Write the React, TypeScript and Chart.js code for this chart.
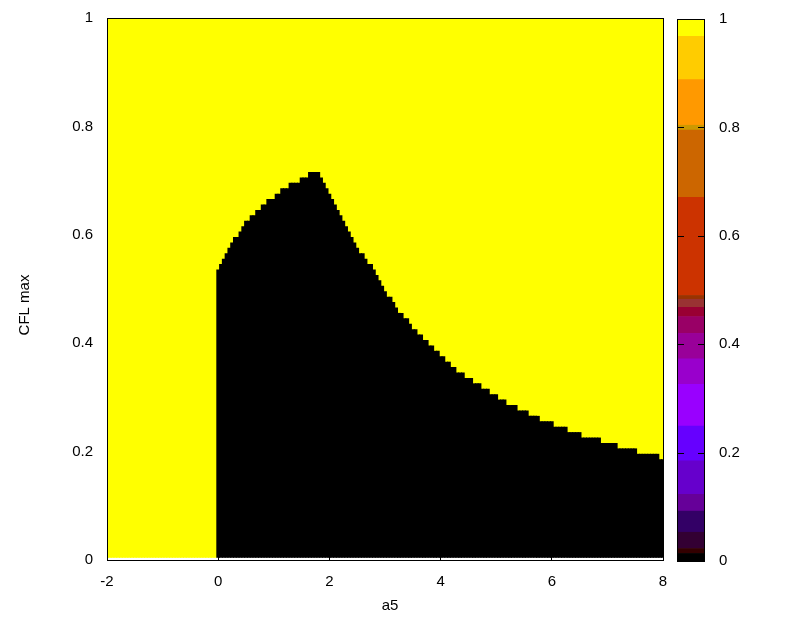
import React, { useEffect, useRef } from "react";
import { Chart, registerables } from "chart.js";

Chart.register(...registerables);

const FONT = "'Liberation Sans', Arial, Helvetica, sans-serif";

// grid of the map (cells are centred on the grid values)
const a5Start = -2;
const a5End = 8;
const a5Step = 0.05;
const cflStep = 0.01;

// highest CFL cell still in the black (value 0) region, for a5 = 0, 0.05, ..., 8
const cflMaxStable = [
  0.53, 0.54, 0.55, 0.56, 0.57, 0.58, 0.59, 0.59, 0.60, 0.61,
  0.62, 0.62, 0.63, 0.63, 0.64, 0.64, 0.65, 0.65, 0.66, 0.66,
  0.66, 0.67, 0.67, 0.68, 0.68, 0.68, 0.69, 0.69, 0.69, 0.69,
  0.70, 0.70, 0.70, 0.71, 0.71, 0.71, 0.71, 0.70, 0.69, 0.68,
  0.67, 0.66, 0.65, 0.64, 0.63, 0.62, 0.61, 0.60, 0.59, 0.58,
  0.57, 0.56, 0.56, 0.55, 0.54, 0.54, 0.53, 0.52, 0.51, 0.50,
  0.49, 0.48, 0.48, 0.47, 0.46, 0.45, 0.45, 0.44, 0.44, 0.43,
  0.42, 0.42, 0.41, 0.41, 0.40, 0.40, 0.39, 0.39, 0.38, 0.38,
  0.37, 0.37, 0.36, 0.36, 0.35, 0.35, 0.34, 0.34, 0.34, 0.33,
  0.33, 0.33, 0.32, 0.32, 0.32, 0.31, 0.31, 0.31, 0.30, 0.30,
  0.30, 0.29, 0.29, 0.29, 0.28, 0.28, 0.28, 0.28, 0.27, 0.27,
  0.27, 0.27, 0.26, 0.26, 0.26, 0.26, 0.25, 0.25, 0.25, 0.25,
  0.25, 0.24, 0.24, 0.24, 0.24, 0.24, 0.23, 0.23, 0.23, 0.23,
  0.23, 0.22, 0.22, 0.22, 0.22, 0.22, 0.22, 0.22, 0.21, 0.21,
  0.21, 0.21, 0.21, 0.21, 0.20, 0.20, 0.20, 0.20, 0.20, 0.20,
  0.20, 0.19, 0.19, 0.19, 0.19, 0.19, 0.19, 0.19, 0.19, 0.18,
  0.18,
];

const stableValue = 0; // black
const unstableValue = 1; // yellow

// colour bar bands (lower bound of each band and its colour)
const cbBandStart = [
  0, 0.014, 0.023, 0.053, 0.092, 0.123, 0.185, 0.249, 0.326, 0.373,
  0.42, 0.451, 0.468, 0.483, 0.49, 0.671, 0.795, 0.804, 0.888, 0.968,
];
const cbBandColor = [
  "#000000", "#330000", "#330033", "#330066", "#660099", "#6600cc", "#6600ff", "#9900ff", "#9900cc", "#990099",
  "#990066", "#990033", "#993333", "#993300", "#cc3300", "#cc6600", "#cc9900", "#ff9900", "#ffcc00", "#ffff00",
];

const xTickLabels = ["-2", "0", "2", "4", "6", "8"];
const yTickLabels = ["0", "0.2", "0.4", "0.6", "0.8", "1"];
const cbTickLabels = ["0", "0.2", "0.4", "0.6", "0.8", "1"];

const xTitle = "a5";
const yTitle = "CFL max";

const W = 801;
const H = 623;

const noPad = (s: any) => {
  s.paddingTop = 0;
  s.paddingBottom = 0;
  s.paddingLeft = 0;
  s.paddingRight = 0;
};

const framePlugin = {
  id: "frame",
  afterDatasetsDraw(chart: any) {
    const { ctx, chartArea: a } = chart;
    ctx.save();
    ctx.strokeStyle = "#000";
    ctx.lineWidth = 1;
    const l = Math.round(a.left), t = Math.round(a.top), r = Math.round(a.right), b = Math.round(a.bottom);
    ctx.strokeRect(l + 0.5, t + 0.5, r - l, b - t);
    ctx.restore();
  },
};

const titlesPlugin = {
  id: "titles",
  afterDraw(chart: any) {
    const { ctx } = chart;
    ctx.save();
    ctx.fillStyle = "#000";
    ctx.font = `15px ${FONT}`;
    ctx.textAlign = "center";
    ctx.textBaseline = "middle";
    ctx.fillText(xTitle, 390, 606);
    ctx.translate(25, 305);
    ctx.rotate(-Math.PI / 2);
    ctx.fillText(yTitle, 0, 0);
    ctx.restore();
  },
};

const cbFramePlugin = {
  id: "cbframe",
  afterDatasetsDraw(chart: any) {
    const { ctx, chartArea: a } = chart;
    const ys = chart.scales.y;
    const l = Math.round(a.left), t = Math.round(a.top), r = Math.round(a.right), b = Math.round(a.bottom);
    ctx.save();
    ctx.strokeStyle = "#000";
    ctx.lineWidth = 1;
    ctx.beginPath();
    ys.ticks.forEach((tk: any) => {
      const py = Math.round(ys.getPixelForValue(tk.value)) + 0.5;
      ctx.moveTo(l, py);
      ctx.lineTo(l + 7, py);
      ctx.moveTo(r - 7, py);
      ctx.lineTo(r, py);
    });
    ctx.stroke();
    ctx.strokeRect(l + 0.5, t + 0.5, r - l - 1, b - t);
    ctx.restore();
  },
};

export default function App() {
  const mainRef = useRef<HTMLCanvasElement>(null);
  const cbRef = useRef<HTMLCanvasElement>(null);

  useEffect(() => {
    Chart.defaults.font.family = FONT;
    Chart.defaults.font.size = 15;
    Chart.defaults.color = "#000";

    const half = cflStep / 2;
    const nCols = Math.round((a5End - a5Start) / a5Step);
    const blackCells: any[] = [];
    const yellowCells: any[] = [];
    for (let i = 0; i <= nCols; i++) {
      const x = +(a5Start + i * a5Step).toFixed(4);
      if (x < 0) {
        yellowCells.push({ x, y: [half, unstableValue + half] });
      } else {
        const j = Math.round(x / a5Step);
        const top = cflMaxStable[j] + half;
        blackCells.push({ x, y: [half, top] });
        yellowCells.push({ x, y: [top, unstableValue + half] });
      }
    }

    const main = new Chart(mainRef.current as HTMLCanvasElement, {
      type: "bar",
      data: {
        datasets: [
          { label: "value " + stableValue, data: blackCells, backgroundColor: "#000000", grouped: false } as any,
          { label: "value " + unstableValue, data: yellowCells, backgroundColor: "#ffff00", grouped: false } as any,
        ],
      },
      options: {
        responsive: false,
        animation: false,
        events: [],
        layout: { padding: { left: 0, right: W - 663, top: 18, bottom: 0 } },
        datasets: { bar: { categoryPercentage: 1, barPercentage: 1, borderWidth: 0, inflateAmount: 0.5 } },
        plugins: { legend: { display: false }, tooltip: { enabled: false } },
        scales: {
          x: {
            type: "linear",
            min: a5Start,
            max: a5End,
            offset: false,
            ticks: {
              stepSize: 2,
              padding: 13,
              autoSkip: false,
              maxRotation: 0,
              callback: (_v: any, i: number) => xTickLabels[i],
            },
            grid: { color: "#000", drawTicks: false, offset: false },
            border: { display: false },
            afterFit: (s: any) => { s.height = 63; noPad(s); },
          },
          y: {
            type: "linear",
            min: 0,
            max: 1,
            ticks: { stepSize: 0.2, padding: 14, callback: (_v: any, i: number) => yTickLabels[i] },
            grid: { display: false, drawTicks: false },
            border: { display: false },
            afterFit: (s: any) => { s.width = 107; noPad(s); },
          },
        },
      } as any,
      plugins: [framePlugin, titlesPlugin],
    });

    const nb = cbBandStart.length;
    const cb = new Chart(cbRef.current as HTMLCanvasElement, {
      type: "bar",
      data: {
        labels: ["cb"],
        datasets: cbBandStart.map((lo, i) => ({
          data: [[lo, i < nb - 1 ? cbBandStart[i + 1] : 1]],
          backgroundColor: cbBandColor[i],
          grouped: false,
        })) as any,
      },
      options: {
        responsive: false,
        animation: false,
        events: [],
        layout: { padding: { left: 677, right: 0, top: 19, bottom: 62 } },
        datasets: { bar: { categoryPercentage: 1, barPercentage: 1, borderWidth: 0 } },
        plugins: { legend: { display: false }, tooltip: { enabled: false } },
        scales: {
          x: { display: false },
          y: {
            position: "right",
            min: 0,
            max: 1,
            ticks: { stepSize: 0.2, padding: 14, callback: (_v: any, i: number) => cbTickLabels[i] },
            grid: { display: false, drawTicks: false },
            border: { display: false },
            afterFit: (s: any) => { s.width = 96; noPad(s); },
          },
        },
      } as any,
      plugins: [cbFramePlugin],
    });

    return () => {
      main.destroy();
      cb.destroy();
    };
  }, []);

  return (
    <div style={{ position: "absolute", left: 0, top: 0, width: W, height: H, background: "#fff" }}>
      <canvas ref={mainRef} width={W} height={H} style={{ position: "absolute", left: 0, top: 0, width: W, height: H }} />
      <canvas ref={cbRef} width={W} height={H} style={{ position: "absolute", left: 0, top: 0, width: W, height: H }} />
    </div>
  );
}
